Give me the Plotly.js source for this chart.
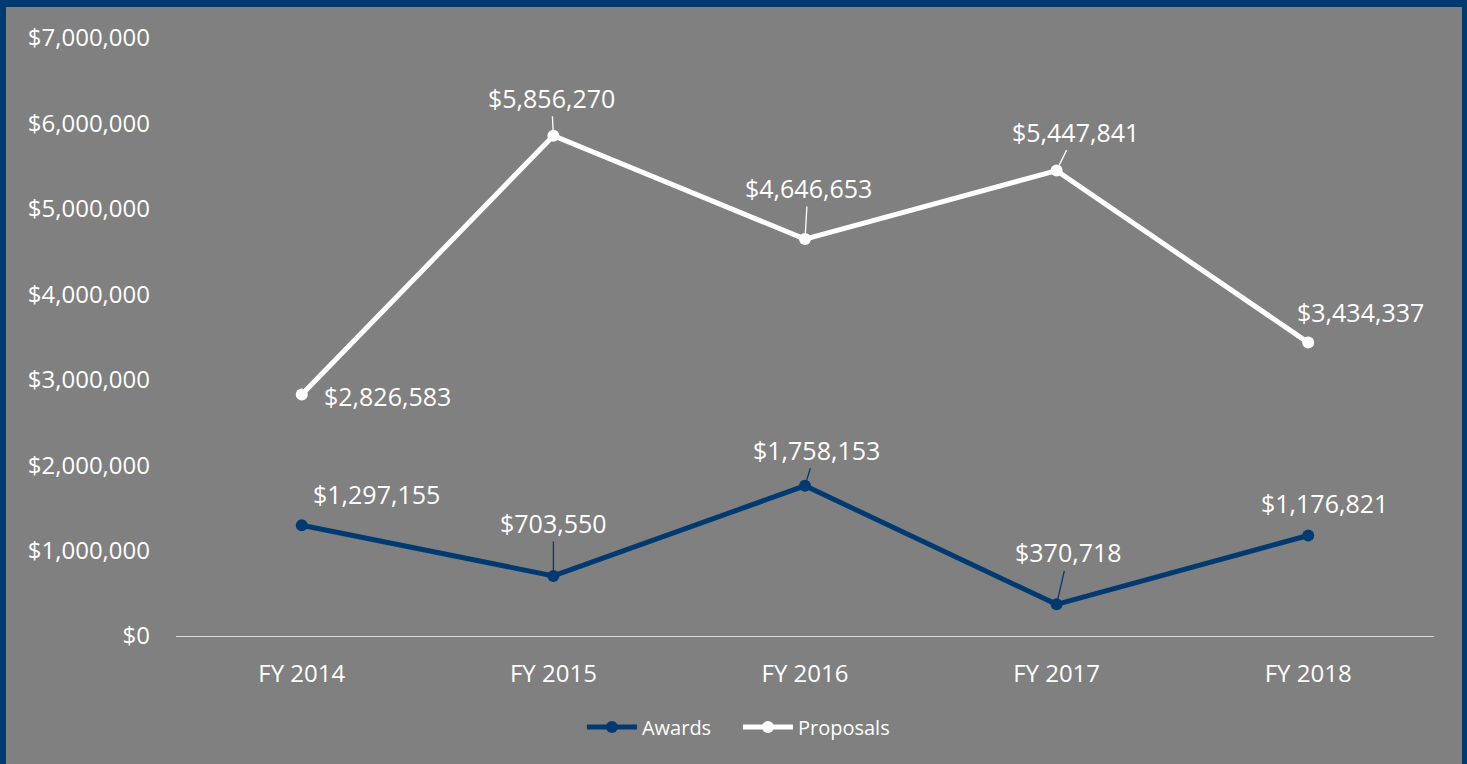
<!DOCTYPE html>
<html>
<head>
<meta charset="utf-8">
<script src="https://cdn.plot.ly/plotly-3.0.1.min.js"></script>
<style>
  html, body { margin: 0; padding: 0; background: #003A70; width: 1467px; height: 764px; overflow: hidden; }
  #chart { position: absolute; left: 6px; top: 7px; width: 1456px; height: 757px; }
</style>
</head>
<body>
<div id="chart"></div>
<script>
const categories = ["FY 2014", "FY 2015", "FY 2016", "FY 2017", "FY 2018"];
const awards = [1297155, 703550, 1758153, 370718, 1176821];
const proposals = [2826583, 5856270, 4646653, 5447841, 3434337];
const yTickVals = [0, 1000000, 2000000, 3000000, 4000000, 5000000, 6000000, 7000000];

const BLUE = "#003A70";
const WHITE = "#FFFFFF";
const FONT = "Open Sans, Noto Sans, sans-serif";

function money(v) { return "$" + v.toLocaleString("en-US"); }

// label placement styling (pixel offsets) per point
const awardsLabelStyle = [
  {arrow: false, dx: 75, dy: 31},
  {arrow: true, ax: 0, ay: -53},
  {arrow: true, ax: 11, ay: -36},
  {arrow: true, ax: 12, ay: -52},
  {arrow: false, dx: 16, dy: 32}
];
const proposalsLabelStyle = [
  {arrow: false, dx: 86, dy: -1},
  {arrow: true, ax: -2, ay: -38},
  {arrow: true, ax: 3, ay: -51},
  {arrow: true, ax: 19, ay: -39},
  {arrow: false, dx: 52, dy: 31}
];

function makeAnnotations(values, styles, lineColor) {
  return values.map((v, i) => {
    const s = styles[i];
    const base = {
      x: categories[i], y: v, xref: "x", yref: "y",
      text: money(v),
      font: {family: FONT, size: 25, color: WHITE}
    };
    if (s.arrow) {
      return Object.assign(base, {
        showarrow: true, ax: s.ax, ay: s.ay, axref: "pixel", ayref: "pixel",
        arrowhead: 0, arrowwidth: 1.3, arrowcolor: lineColor, standoff: 3
      });
    }
    return Object.assign(base, {showarrow: false, xshift: s.dx, yshift: s.dy});
  });
}

const traces = [
  {
    x: categories, y: awards, name: "Awards", type: "scatter", mode: "lines+markers",
    line: {color: BLUE, width: 5}, marker: {color: BLUE, size: 12}, hoverinfo: "skip"
  },
  {
    x: categories, y: proposals, name: "Proposals", type: "scatter", mode: "lines+markers",
    line: {color: WHITE, width: 5}, marker: {color: WHITE, size: 12}, hoverinfo: "skip"
  }
];

const layout = {
  width: 1456, height: 757,
  paper_bgcolor: "#808080", plot_bgcolor: "#808080",
  margin: {l: 170, r: 28, t: 31, b: 128, autoexpand: false},
  showlegend: true,
  legend: {
    orientation: "h", x: 0.4467, xanchor: "center", y: -0.152, yanchor: "middle",
    font: {family: FONT, size: 20, color: WHITE}, bgcolor: "rgba(0,0,0,0)",
    itemwidth: 50, entrywidth: 91, entrywidthmode: "pixels"
  },
  xaxis: {
    type: "category", range: [-0.5, 4.5], showgrid: false, zeroline: false,
    showline: true, linecolor: "#D9D9D9", linewidth: 1.3, ticks: "",
    tickfont: {family: FONT, size: 24, color: WHITE}, ticklabelstandoff: 16
  },
  yaxis: {
    range: [0, 7000000], tickvals: yTickVals, ticktext: yTickVals.map(money),
    showgrid: false, zeroline: false, showline: false, ticks: "",
    tickfont: {family: FONT, size: 24, color: WHITE}, ticklabelstandoff: 25
  },
  annotations: makeAnnotations(awards, awardsLabelStyle, BLUE)
    .concat(makeAnnotations(proposals, proposalsLabelStyle, WHITE)),
  font: {family: FONT, color: WHITE}
};

Plotly.newPlot("chart", traces, layout, {displayModeBar: false, staticPlot: true});
</script>
</body>
</html>
